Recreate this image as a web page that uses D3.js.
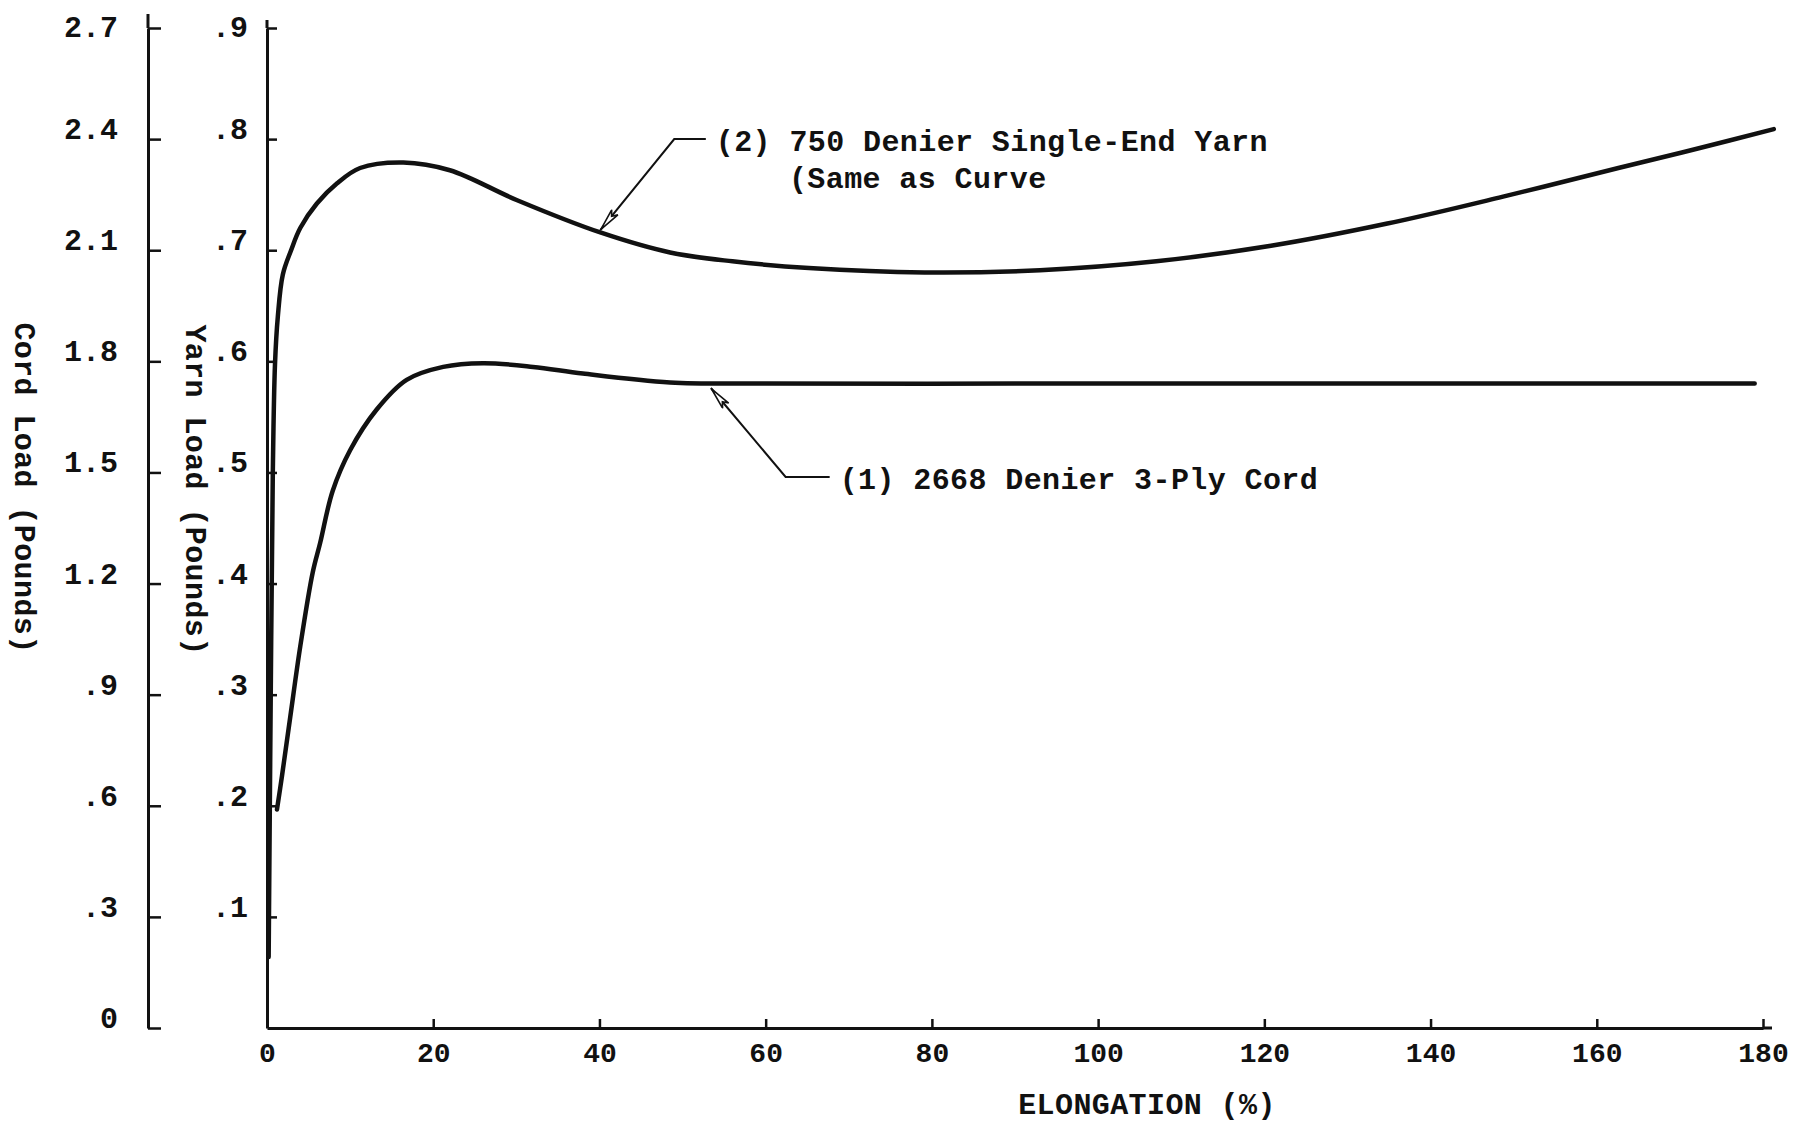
<!DOCTYPE html>
<html><head><meta charset="utf-8">
<script src="https://cdn.jsdelivr.net/npm/d3@7"></script>
<style>
body{margin:0;background:#fff}
text{font-family:"Liberation Mono","DejaVu Sans Mono",monospace;font-weight:bold;fill:#111}
</style>
</head><body>
<svg id="chart" width="1812" height="1126"></svg>
<script>
// ---- data ----
// Curve (2): 750 denier single-end yarn, yarn load (pounds) vs elongation (%)
const yarnElongation = [0.2, 0.45, 0.7, 0.96, 1.3, 1.9, 2.9, 4.0, 6.0, 8.4, 11.2, 16.4, 22.0, 30.1, 40.1, 48.5, 56, 65.2, 79.1, 93, 107, 120.8, 134.8, 148.6, 162.6, 172.4, 181.3];
const yarnLoad       = [0.064, 0.30, 0.50, 0.597, 0.640, 0.678, 0.700, 0.720, 0.742, 0.760, 0.774, 0.779, 0.772, 0.745, 0.716, 0.698, 0.690, 0.684, 0.680, 0.682, 0.690, 0.704, 0.724, 0.748, 0.774, 0.792, 0.809];
// Curve (1): 2668 denier 3-ply cord, cord load (pounds) vs elongation (%)
const cordElongation = [1.2, 1.8, 2.8, 4.0, 5.5, 6.4, 7.9, 10.0, 13.2, 16.8, 21.2, 26.0, 32.0, 38.0, 48.5, 60, 90, 120, 150, 179];
const cordLoad       = [0.59, 0.68, 0.84, 1.03, 1.23, 1.31, 1.45, 1.56, 1.67, 1.75, 1.785, 1.795, 1.785, 1.767, 1.743, 1.740, 1.740, 1.740, 1.740, 1.740];

const xTicks = [0, 20, 40, 60, 80, 100, 120, 140, 160, 180];
const xTickLabels = ["0", "20", "40", "60", "80", "100", "120", "140", "160", "180"];
const yarnTicks = [0.1, 0.2, 0.3, 0.4, 0.5, 0.6, 0.7, 0.8, 0.9];
const yarnTickLabels = [".1", ".2", ".3", ".4", ".5", ".6", ".7", ".8", ".9"];
const cordTicks = [0, 0.3, 0.6, 0.9, 1.2, 1.5, 1.8, 2.1, 2.4, 2.7];
const cordTickLabels = ["0", ".3", ".6", ".9", "1.2", "1.5", "1.8", "2.1", "2.4", "2.7"];

const curveLabel1 = "(1) 2668 Denier 3-Ply Cord";
const curveLabel2a = "(2) 750 Denier Single-End Yarn";
const curveLabel2b = "(Same as Curve";
const xTitle = "ELONGATION (%)";
const cordTitle = "Cord Load (Pounds)";
const yarnTitle = "Yarn Load (Pounds)";

// ---- layout ----
const svg = d3.select("#chart");
svg.append("rect").attr("width", 1812).attr("height", 1126).attr("fill", "#fff");
const ink = "#111";

const x = d3.scaleLinear().domain([0, 180]).range([267, 1763]);
const yYarn = d3.scaleLinear().domain([0, 0.9]).range([1028, 28]);
const yCord = d3.scaleLinear().domain([0, 2.7]).range([1028, 28]);

function styleAxis(g, fs) {
  g.select(".domain").attr("stroke", ink).attr("stroke-width", 3);
  g.selectAll(".tick line").attr("stroke", ink).attr("stroke-width", 2.5);
  g.selectAll(".tick text").attr("font-size", fs).attr("fill", ink)
    .attr("font-family", '"Liberation Mono", monospace').attr("font-weight", "bold");
}

// Cord axis (outer left)
const gCord = svg.append("g").attr("transform", "translate(148,0)")
  .call(d3.axisLeft(yCord).tickValues(cordTicks).tickFormat((d, i) => cordTickLabels[i])
    .tickSizeInner(-13).tickSizeOuter(0).tickPadding(30));
styleAxis(gCord, 30);
gCord.selectAll(".tick text").attr("dy", "0.35em").attr("y", d => d === 2.7 ? -2 : -11);
gCord.append("line").attr("x1", 0).attr("x2", 0).attr("y1", yCord(2.7) - 14).attr("y2", yCord(2.7))
  .attr("stroke", ink).attr("stroke-width", 3);

// Yarn axis (inner left)
const gYarn = svg.append("g").attr("transform", "translate(267,0)")
  .call(d3.axisLeft(yYarn).tickValues(yarnTicks).tickFormat((d, i) => yarnTickLabels[i])
    .tickSizeInner(-10).tickSizeOuter(0).tickPadding(19));
styleAxis(gYarn, 30);
gYarn.selectAll(".tick text").attr("dy", "0.35em").attr("y", d => d === 0.9 ? -2 : -11);
gYarn.append("line").attr("x1", 0).attr("x2", 0).attr("y1", yYarn(0.9) - 8).attr("y2", yYarn(0.9))
  .attr("stroke", ink).attr("stroke-width", 3);

// X axis
const gX = svg.append("g").attr("transform", "translate(0,1028)")
  .call(d3.axisBottom(x).tickValues(xTicks).tickFormat((d, i) => xTickLabels[i])
    .tickSizeInner(-9).tickSizeOuter(0));
styleAxis(gX, 28);
gX.selectAll(".tick text").attr("y", 34).attr("dy", 0);
gX.append("line").attr("x1", x(180)).attr("x2", x(180) + 9).attr("y1", 0).attr("y2", 0)
  .attr("stroke", ink).attr("stroke-width", 3);

// Axis titles
svg.append("text").attr("transform", "translate(23,488) rotate(90)")
  .attr("text-anchor", "middle").attr("dominant-baseline", "central")
  .attr("font-size", 30).attr("letter-spacing", 0.4).text(cordTitle);
svg.append("text").attr("transform", "translate(194,490) rotate(90)")
  .attr("text-anchor", "middle").attr("dominant-baseline", "central")
  .attr("font-size", 30).attr("letter-spacing", 0.4).text(yarnTitle);
svg.append("text").attr("x", 1147).attr("y", 1114).attr("text-anchor", "middle")
  .attr("font-size", 30).attr("letter-spacing", 0.4).text(xTitle);

// Curves
const yarnData = yarnElongation.map((e, i) => [e, yarnLoad[i]]);
const cordData = cordElongation.map((e, i) => [e, cordLoad[i]]);
const smooth = d3.curveCatmullRom.alpha(0.5);

svg.append("path").datum(yarnData)
  .attr("d", d3.line().x(d => x(d[0])).y(d => yYarn(d[1])).curve(smooth))
  .attr("fill", "none").attr("stroke", ink).attr("stroke-width", 4.5)
  .attr("stroke-linecap", "round").attr("stroke-linejoin", "round");
svg.append("path").datum(cordData)
  .attr("d", d3.line().x(d => x(d[0])).y(d => yCord(d[1])).curve(smooth))
  .attr("fill", "none").attr("stroke", ink).attr("stroke-width", 4.5)
  .attr("stroke-linecap", "round").attr("stroke-linejoin", "round");

// Arrow marker (open head)
svg.append("defs").append("marker").attr("id", "arr")
  .attr("viewBox", "0 0 24 10").attr("refX", 24).attr("refY", 5)
  .attr("markerWidth", 24).attr("markerHeight", 10).attr("markerUnits", "userSpaceOnUse")
  .attr("orient", "auto")
  .append("path").attr("d", "M1,1 L23,5 L1,9 L6,5 Z")
  .attr("fill", "#fff").attr("stroke", ink).attr("stroke-width", 1.6);

// Annotation (2)
const a2x = 49.0, a2y = 0.800;
svg.append("path")
  .attr("d", `M${x(52.8)},${yYarn(a2y)} L${x(a2x)},${yYarn(a2y)} L${x(40.1)},${yYarn(0.718)}`)
  .attr("fill", "none").attr("stroke", ink).attr("stroke-width", 2).attr("marker-end", "url(#arr)");
svg.append("text").attr("x", x(54.0)).attr("y", yYarn(0.789))
  .attr("font-size", 30).attr("letter-spacing", 0.4).text(curveLabel2a);
svg.append("text").attr("x", x(62.8)).attr("y", yYarn(0.756))
  .attr("font-size", 30).attr("letter-spacing", 0.4).text(curveLabel2b);

// Annotation (1)
svg.append("path")
  .attr("d", `M${x(67.7)},${yYarn(0.496)} L${x(62.4)},${yYarn(0.496)} L${x(53.4)},${yCord(1.728)}`)
  .attr("fill", "none").attr("stroke", ink).attr("stroke-width", 2).attr("marker-end", "url(#arr)");
svg.append("text").attr("x", x(68.9)).attr("y", yYarn(0.485))
  .attr("font-size", 30).attr("letter-spacing", 0.4).text(curveLabel1);
</script>
</body></html>
